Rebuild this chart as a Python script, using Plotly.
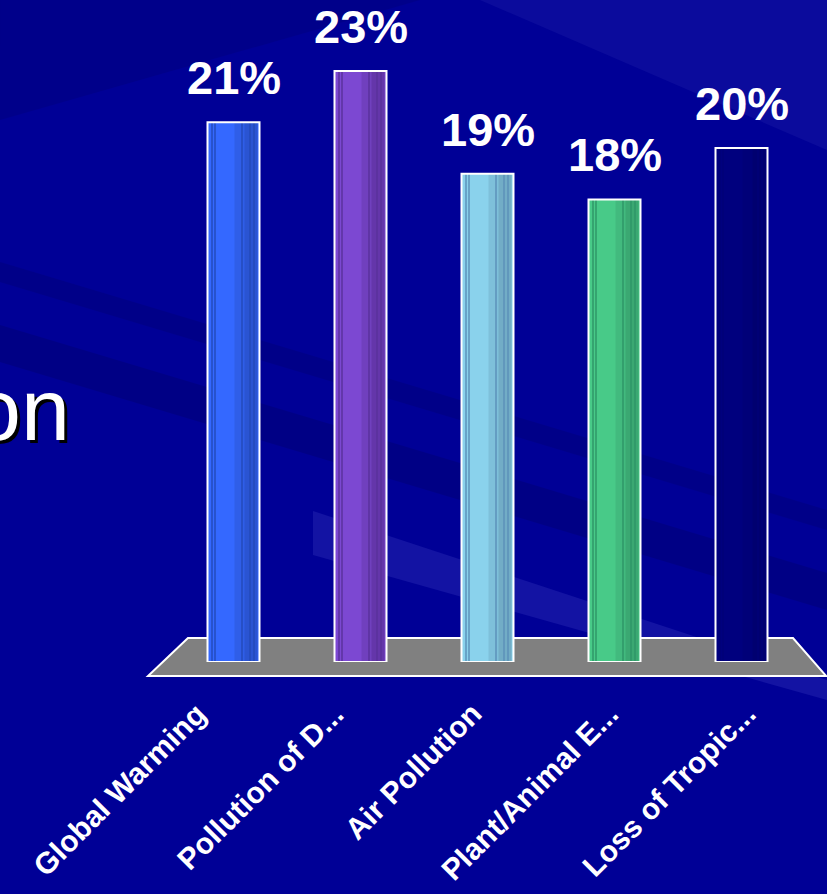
import plotly.graph_objects as go

# ---- data -------------------------------------------------------------
categories = ["Global Warming", "Pollution of D...", "Air Pollution",
              "Plant/Animal E...", "Loss of Tropic..."]
values = [21, 23, 19, 18, 20]
value_labels = ["21%", "23%", "19%", "18%", "20%"]

# cylinder shading colours (front, mid, shadow side, groove lines)
light = ["#3468FF", "#7C48D2", "#8AD2EC", "#48CA88", "#00007E"]
mid = ["#2F5EE8", "#7040BE", "#7EC0DA", "#42BA7E", "#000078"]
dark = ["#2A54D2", "#6436AA", "#72ADC6", "#3BA872", "#000070"]
groove = ["#2248B8", "#58309A", "#5A8EB8", "#2E9466", "#000078"]

# ---- geometry ---------------------------------------------------------
W, H = 827, 894
L_M, R_M, T_M, B_M = 170, 22, 0, 232
PLOT_W = W - L_M - R_M
PLOT_H = H - T_M - B_M
CAT_PX = PLOT_W / len(categories)
PX_PER_UNIT = 25.7
BAR_W = 52 / CAT_PX
FONT = "Liberation Sans, Arial, sans-serif"
# category labels fan out slightly along the front edge of the floor
LABEL_CENTER, LABEL_STEP = 490, 137.5


def cu(n):
    """pixels -> category units"""
    return n / CAT_PX


def pp(xp, yp):
    """pixel position -> paper coordinates"""
    return (xp - L_M) / PLOT_W, (H - B_M - yp) / PLOT_H


def poly(points):
    parts = []
    for i, (a, b) in enumerate(points):
        x, y = pp(a, b)
        parts.append(("M" if i == 0 else "L") + f"{x:.4f},{y:.4f}")
    return " ".join(parts) + " Z"


fig = go.Figure()

# cylinder body
fig.add_bar(x=categories, y=values, width=BAR_W, offset=-BAR_W / 2,
            marker=dict(color=light, line=dict(width=0)), hoverinfo="skip")
# shaded right side
fig.add_bar(x=categories, y=values, width=BAR_W - cu(29), offset=-BAR_W / 2 + cu(27),
            marker=dict(color=mid, line=dict(width=0)), hoverinfo="skip")
fig.add_bar(x=categories, y=values, width=BAR_W - cu(39), offset=-BAR_W / 2 + cu(37),
            marker=dict(color=dark, line=dict(width=0)), hoverinfo="skip")
# vertical facet grooves
for off in (4, 7, 34, 42, 46):
    fig.add_bar(x=categories, y=values, width=cu(1), offset=-BAR_W / 2 + cu(off),
                marker=dict(color=groove, line=dict(width=0), opacity=0.7),
                hoverinfo="skip")
# white outline
fig.add_bar(x=categories, y=values, width=BAR_W, offset=-BAR_W / 2,
            marker=dict(color="rgba(0,0,0,0)", line=dict(color="white", width=2)),
            hovertemplate="%{x}: %{y}%<extra></extra>")

shapes = [
    # background streaks
    dict(type="path", xref="paper", yref="paper", layer="below",
         path=poly([(0, 325), (827, 573), (827, 610), (0, 362)]),
         fillcolor="#000070", opacity=0.45, line=dict(width=0)),
    dict(type="path", xref="paper", yref="paper", layer="below",
         path=poly([(0, 262), (827, 510), (827, 530), (0, 282)]),
         fillcolor="#000070", opacity=0.35, line=dict(width=0)),
    dict(type="path", xref="paper", yref="paper", layer="below",
         path=poly([(313, 511), (827, 680), (827, 700), (313, 555)]),
         fillcolor="#2A2AB4", opacity=0.45, line=dict(width=0)),
    dict(type="path", xref="paper", yref="paper", layer="below",
         path=poly([(480, 0), (827, 0), (827, 150)]),
         fillcolor="#2020A8", opacity=0.35, line=dict(width=0)),
    dict(type="path", xref="paper", yref="paper", layer="below",
         path=poly([(0, 0), (420, 0), (0, 120)]),
         fillcolor="#000078", opacity=0.4, line=dict(width=0)),
    # floor
    dict(type="path", xref="paper", yref="paper", layer="below",
         path=poly([(188, 638), (793, 638), (826, 676), (148, 676)]),
         fillcolor="#808080", line=dict(color="white", width=2)),
]

annotations = []
for i, (c, v, t) in enumerate(zip(categories, values, value_labels)):
    annotations.append(dict(x=c, y=v, xref="x", yref="y", text=t, showarrow=False,
                            xanchor="center", yanchor="bottom", yshift=16,
                            font=dict(family=FONT, size=47, color="white",
                                      weight="bold")))
    bar_center = L_M + (i + 0.5) * CAT_PX
    label_end = LABEL_CENTER + (i - 2) * LABEL_STEP
    annotations.append(dict(x=c, y=0, xref="x", yref="y", text=c, showarrow=False,
                            textangle=-45, xanchor="right", yanchor="top",
                            xshift=label_end - bar_center, yshift=-32,
                            font=dict(family=FONT, size=30, color="white",
                                      weight="bold")))

ox, oy = pp(72, 409)
annotations.append(dict(x=ox, y=oy, xref="paper", yref="paper", text="on",
                        showarrow=False, xanchor="right", yanchor="middle",
                        font=dict(family=FONT, size=88, color="white",
                                  shadow="3px 3px 0px #000000")))

fig.update_layout(
    width=W, height=H, autosize=False,
    margin=dict(l=L_M, r=R_M, t=T_M, b=B_M, pad=0),
    paper_bgcolor="#000096", plot_bgcolor="rgba(0,0,0,0)",
    barmode="overlay", showlegend=False,
    xaxis=dict(type="category", range=[-0.5, len(categories) - 0.5],
               showticklabels=False, showgrid=False, zeroline=False,
               showline=False, ticks=""),
    yaxis=dict(range=[0, PLOT_H / PX_PER_UNIT], visible=False),
    shapes=shapes, annotations=annotations,
)

fig.write_html("out.html")
